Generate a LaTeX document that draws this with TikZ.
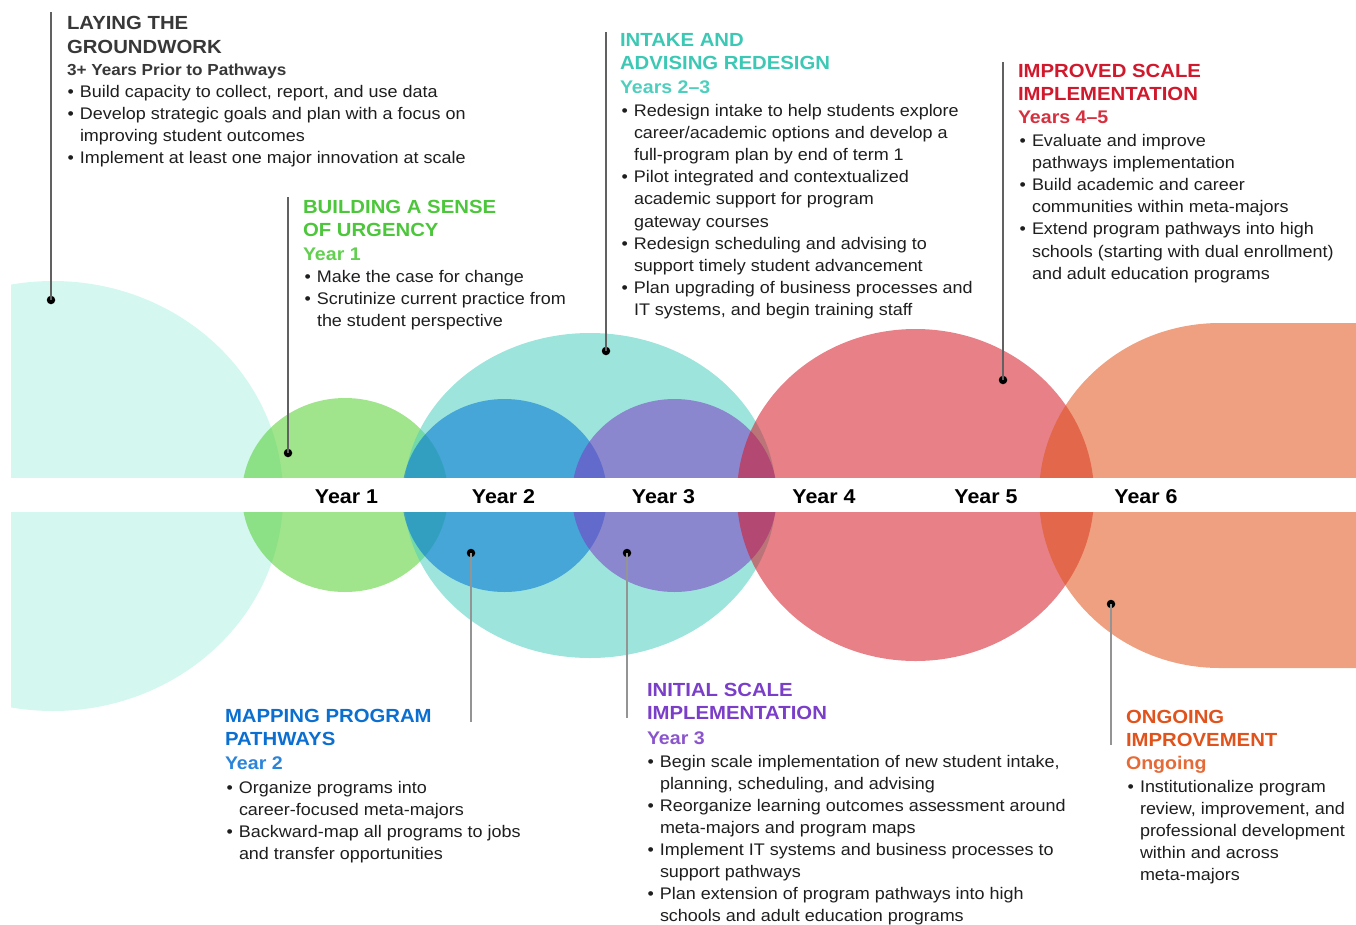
\documentclass[tikz,border=0pt]{standalone}
\usepackage{fontspec}
\setmainfont{Liberation Sans}[FakeStretch=1.07]
\definecolor{ink}{HTML}{1E1E1E}
\definecolor{cyanL}{RGB}{212,247,240}
\definecolor{fGreen}{RGB}{82,206,46}
\definecolor{fTeal}{RGB}{77,208,191}
\definecolor{fBlue}{RGB}{0,114,214}
\definecolor{fPurple}{RGB}{122,58,196}
\definecolor{fRed}{RGB}{213,24,39}
\definecolor{fOrange}{RGB}{224,82,24}
\definecolor{tGray}{HTML}{383838}
\definecolor{tGreen}{HTML}{4CC63A}
\definecolor{sGreen}{HTML}{62CF50}
\definecolor{tTeal}{HTML}{3CC8B4}
\definecolor{sTeal}{HTML}{4ECFBE}
\definecolor{tBlue}{HTML}{0A6FD0}
\definecolor{sBlue}{HTML}{2A84DA}
\definecolor{tPurple}{HTML}{7A3EC8}
\definecolor{sPurple}{HTML}{8A55CC}
\definecolor{tRed}{HTML}{D0192C}
\definecolor{sRed}{HTML}{D6303F}
\definecolor{tOrange}{HTML}{E0531C}
\definecolor{sOrange}{HTML}{E46A38}
\newcommand\bu{\llap{\textbullet\hspace{6pt}}}
\tikzset{
  txt/.style={inner sep=0pt, outer sep=0pt, anchor=base west},
  ttl/.style={txt, font=\fontsize{19}{23}\selectfont\bfseries, text=#1},
  subt/.style={txt, font=\fontsize{16}{20}\selectfont\bfseries, text=#1},
  subc/.style={txt, font=\fontsize{18.3}{22}\selectfont\bfseries, text=#1},
  body/.style={txt, font=\fontsize{16.8}{22}\selectfont, text=ink},
  yr/.style={inner sep=0pt, outer sep=0pt, anchor=base, font=\fontsize{20}{24}\selectfont\bfseries, text=black},
  dotn/.style={circle, fill=black, inner sep=0pt, minimum size=8.5pt},
  leadtop/.style={draw=black!62, line width=1.2pt},
  leadbot/.style={draw=black!42, line width=1.2pt},
  blob/.style={fill=#1, fill opacity=0.55},
}
\begin{document}
\begin{tikzpicture}[x=1pt, y=-1pt]
\useasboundingbox (0,0) rectangle (1356,924);
% shapes
\begin{scope}
  \clip (11,0) rectangle (1356,924);
  \fill[cyanL] (53,496) ellipse [x radius=230, y radius=215];
\end{scope}
\fill[blob=fGreen] (345,495) ellipse [x radius=103, y radius=97];
\fill[blob=fTeal] (590,495.5) ellipse [x radius=186, y radius=162.5];
\fill[blob=fBlue] (504.5,495.5) ellipse [x radius=102.5, y radius=96.5];
\fill[blob=fPurple] (674.5,495.5) ellipse [x radius=102.5, y radius=96.5];
\fill[blob=fRed] (915.5,495) ellipse [x radius=178.5, y radius=166];
\fill[blob=fOrange] (1356,323) -- (1220,323) arc[start angle=270, end angle=90, x radius=181, y radius=172.5] -- (1356,668) -- cycle;
% band
\fill[white] (0,478) rectangle (1356,512);
\node[yr] (y1) at (346.5,503) {Year 1};
\node[yr] (y2) at (503.5,503) {Year 2};
\node[yr] (y3) at (663.5,503) {Year 3};
\node[yr] (y4) at (824,503) {Year 4};
\node[yr] (y5) at (986,503) {Year 5};
\node[yr] (y6) at (1146,503) {Year 6};
% leaders
\node[dotn] (dA) at (51,300) {};
\coordinate (eA) at (51,12);
\node[dotn] (dB) at (288,453) {};
\coordinate (eB) at (288,197);
\node[dotn] (dC) at (606,351) {};
\coordinate (eC) at (606,32);
\node[dotn] (dD) at (1003,380) {};
\coordinate (eD) at (1003,62);
\node[dotn] (dE) at (471,553) {};
\coordinate (eE) at (471,722);
\node[dotn] (dF) at (627,553) {};
\coordinate (eF) at (627,718);
\node[dotn] (dG) at (1111,604) {};
\coordinate (eG) at (1111,745);
\draw[leadtop] (eA) -- (dA.center);
\draw[leadtop] (eB) -- (dB.center);
\draw[leadtop] (eC) -- (dC.center);
\draw[leadtop] (eD) -- (dD.center);
\draw[leadbot] (dE.center) -- (eE);
\draw[leadbot] (dF.center) -- (eF);
\draw[leadbot] (dG.center) -- (eG);
% block A
\node[ttl=tGray] (A1) at (67,29) {LAYING THE};
\node[ttl=tGray] (A2) at (67,53) {GROUNDWORK};
\node[subt=tGray] (A3) at (67,75) {3+ Years Prior to Pathways};
\foreach \t [count=\i from 0] in {{\bu Build capacity to collect, report, and use data},{\bu Develop strategic goals and plan with a focus on},{improving student outcomes},{\bu Implement at least one major innovation at scale}}
  \node[body] (Ab\i) at (80,97+22.2*\i) {\t};
% block B
\node[ttl=tGreen] (B1) at (303,213) {BUILDING A SENSE};
\node[ttl=tGreen] (B2) at (303,236) {OF URGENCY};
\node[subc=sGreen] (B3) at (303,260) {Year 1};
\foreach \t [count=\i from 0] in {{\bu Make the case for change},{\bu Scrutinize current practice from},{the student perspective}}
  \node[body] (Bb\i) at (317,282+22*\i) {\t};
% block C
\node[ttl=tTeal] (C1) at (620,46) {INTAKE AND};
\node[ttl=tTeal] (C2) at (620,69) {ADVISING REDESIGN};
\node[subc=sTeal] (C3) at (620,93) {Years 2–3};
\foreach \t [count=\i from 0] in {{\bu Redesign intake to help students explore},{career/academic options and develop a},{full-program plan by end of term 1},{\bu Pilot integrated and contextualized},{academic support for program},{gateway courses},{\bu Redesign scheduling and advising to},{support timely student advancement},{\bu Plan upgrading of business processes and},{IT systems, and begin training staff}}
  \node[body] (Cb\i) at (634,116+22.2*\i) {\t};
% block D
\node[ttl=tRed] (D1) at (1018,77) {IMPROVED SCALE};
\node[ttl=tRed] (D2) at (1018,100) {IMPLEMENTATION};
\node[subc=sRed] (D3) at (1018,123) {Years 4–5};
\foreach \t [count=\i from 0] in {{\bu Evaluate and improve},{pathways implementation},{\bu Build academic and career},{communities within meta-majors},{\bu Extend program pathways into high},{schools (starting with dual enrollment)},{and adult education programs}}
  \node[body] (Db\i) at (1032,146+22.2*\i) {\t};
% block E
\node[ttl=tBlue] (E1) at (225,722) {MAPPING PROGRAM};
\node[ttl=tBlue] (E2) at (225,745) {PATHWAYS};
\node[subc=sBlue] (E3) at (225,769) {Year 2};
\foreach \t [count=\i from 0] in {{\bu Organize programs into},{career-focused meta-majors},{\bu Backward-map all programs to jobs},{and transfer opportunities}}
  \node[body] (Eb\i) at (239,793+22*\i) {\t};
% block F
\node[ttl=tPurple] (F1) at (647,696) {INITIAL SCALE};
\node[ttl=tPurple] (F2) at (647,719) {IMPLEMENTATION};
\node[subc=sPurple] (F3) at (647,744) {Year 3};
\foreach \t [count=\i from 0] in {{\bu Begin scale implementation of new student intake,},{planning, scheduling, and advising},{\bu Reorganize learning outcomes assessment around},{meta-majors and program maps},{\bu Implement IT systems and business processes to},{support pathways},{\bu Plan extension of program pathways into high},{schools and adult education programs}}
  \node[body] (Fb\i) at (660,767+22.14*\i) {\t};
% block G
\node[ttl=tOrange] (G1) at (1126,723) {ONGOING};
\node[ttl=tOrange] (G2) at (1126,746) {IMPROVEMENT};
\node[subc=sOrange] (G3) at (1126,769) {Ongoing};
\foreach \t [count=\i from 0] in {{\bu Institutionalize program},{review, improvement, and},{professional development},{within and across},{meta-majors}}
  \node[body] (Gb\i) at (1140,792+22*\i) {\t};
\end{tikzpicture}
\end{document}
